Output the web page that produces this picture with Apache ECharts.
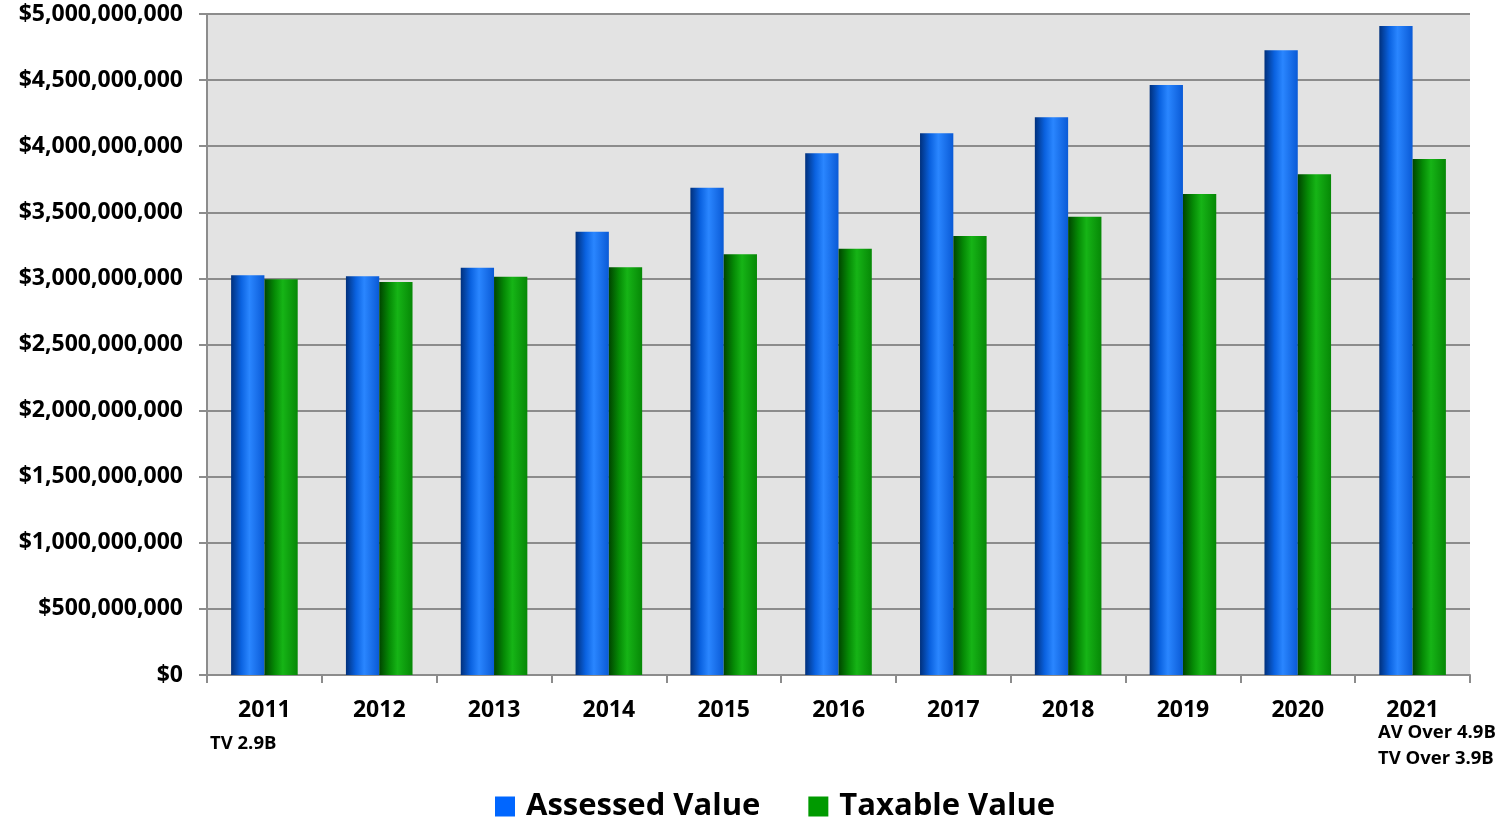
<!DOCTYPE html>
<html>
<head>
<meta charset="utf-8">
<script src="https://cdn.jsdelivr.net/npm/echarts@6/dist/echarts.min.js"></script>
<style>
html,body{margin:0;padding:0;background:#fff;}
#chart{width:1503px;height:819px;}
</style>
</head>
<body>
<div id="chart"></div>
<script>
const years = ['2011','2012','2013','2014','2015','2016','2017','2018','2019','2020','2021'];
const assessedValue = [3.023e9, 3.016e9, 3.081e9, 3.353e9, 3.686e9, 3.946e9, 4.098e9, 4.219e9, 4.463e9, 4.725e9, 4.909e9];
const taxableValue = [2.993e9, 2.973e9, 3.013e9, 3.084e9, 3.182e9, 3.225e9, 3.321e9, 3.467e9, 3.638e9, 3.787e9, 3.903e9];
const seriesNames = ['Assessed Value', 'Taxable Value'];
const notes2011 = ['TV 2.9B'];
const notes2021 = ['AV Over 4.9B', 'TV Over 3.9B'];

const FONT = '"Open Sans", "Liberation Sans", sans-serif';

function fmt(v){
  return '$' + Math.round(v).toString().replace(/\B(?=(\d{3})+(?!\d))/g, ',');
}

const blueGrad = new echarts.graphic.LinearGradient(0,0,1,0,[
  {offset:0, color:'#00307c'},
  {offset:0.3, color:'#0a62e0'},
  {offset:0.55, color:'#2a86ff'},
  {offset:1, color:'#0a5ad6'}
]);
const greenGrad = new echarts.graphic.LinearGradient(0,0,1,0,[
  {offset:0, color:'#004400'},
  {offset:0.3, color:'#058a05'},
  {offset:0.55, color:'#16b416'},
  {offset:1, color:'#068806'}
]);

const chart = echarts.init(document.getElementById('chart'), null, {renderer:'canvas'});
chart.setOption({
  animation:false,
  backgroundColor:'#ffffff',
  grid:{left:207, right:33, top:14, bottom:144, show:true, backgroundColor:'#e3e3e3', borderWidth:0},
  legend:{
    data:[{name:seriesNames[0], itemStyle:{color:'#0066ff'}},{name:seriesNames[1], itemStyle:{color:'#009a00'}}],
    top:786, left:490,
    icon:'rect', itemWidth:20, itemHeight:20, itemGap:48,
    textStyle:{fontFamily:FONT, fontWeight:'bold', fontSize:31, color:'#000', padding:[0,0,0,6]}
  },
  xAxis:{
    type:'category', data:years,
    axisLine:{show:true, lineStyle:{color:'#8c8c8c', width:2}},
    axisTick:{show:true, alignWithLabel:false, length:8, lineStyle:{color:'#8c8c8c', width:2}},
    axisLabel:{margin:24, fontFamily:FONT, fontWeight:'bold', fontSize:23, color:'#000'}
  },
  yAxis:{
    type:'value', min:0, max:5e9, interval:5e8,
    axisLine:{show:true, lineStyle:{color:'#8c8c8c', width:2}},
    axisTick:{show:true, length:8, lineStyle:{color:'#8c8c8c', width:2}},
    splitLine:{show:true, lineStyle:{color:'#8c8c8c', width:2}},
    axisLabel:{margin:24, fontFamily:FONT, fontWeight:'bold', fontSize:23, color:'#000', formatter:fmt}
  },
  series:[
    {name:seriesNames[0], type:'bar', data:assessedValue, barGap:'0%', barCategoryGap:'42%',
     itemStyle:{color:blueGrad}},
    {name:seriesNames[1], type:'bar', data:taxableValue, barGap:'0%', barCategoryGap:'42%',
     itemStyle:{color:greenGrad}}
  ],
  graphic:[
    {type:'text', left:210, top:734, style:{text:notes2011[0], font:'bold 18.5px ' + FONT, fill:'#000'}},
    {type:'text', left:1378, top:723, style:{text:notes2021[0], font:'bold 18.5px ' + FONT, fill:'#000'}},
    {type:'text', left:1378, top:749, style:{text:notes2021[1], font:'bold 18.5px ' + FONT, fill:'#000'}}
  ]
});
</script>
</body>
</html>
